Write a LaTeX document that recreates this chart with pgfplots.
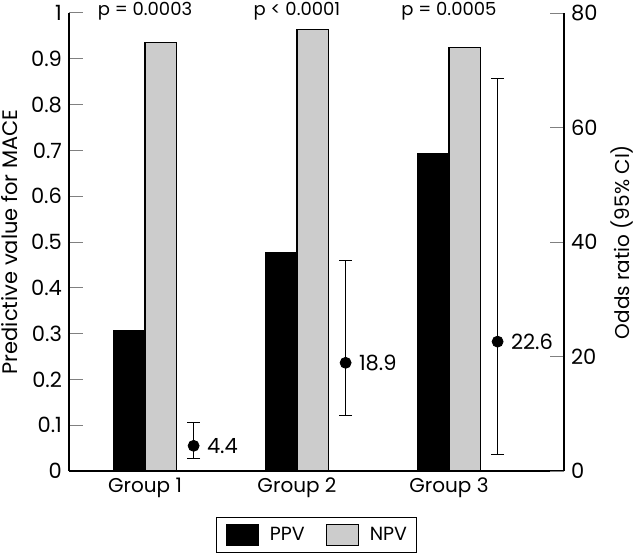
\documentclass[border=0pt]{standalone}
\usepackage{fontspec}
\setmainfont{Poppins}
\usepackage{pgfplots}
\pgfplotsset{compat=1.18}
\usepackage{pgfplotstable}
\definecolor{npvgray}{RGB}{204,204,204}
\pgfplotsset{boxlegend/.style={legend image code/.code={\draw[##1] (0pt,-5.4pt) rectangle (16pt,5.4pt);}}}

\pgfplotstableread{
x ppv npv
1 0.306 0.936
2 0.476 0.964
3 0.692 0.924
}\bars

\pgfplotstableread{
x or ep em lab
1.32 4.4 4.1 2.3 4.4
2.32 18.9 17.9 9.2 18.9
3.32 22.6 45.9 19.8 22.6
}\odds

\begin{document}
\begin{tikzpicture}[font=\fontsize{10pt}{12pt}\selectfont]
\begin{axis}[
  at={(0pt,0pt)}, anchor=south west,
  scale only axis, width=247.5pt, height=229pt,
  xmin=0.5, xmax=3.757, ymin=0, ymax=1,
  axis x line*=bottom, axis y line*=left,
  axis line style={line width=0.6pt},
  ybar=0pt, bar width=15.75pt,
  xtick={1,2,3}, xticklabels={Group 1,Group 2,Group 3},
  x tick style={draw=none},
  xticklabel style={font=\fontsize{10pt}{12pt}\selectfont},
  ytick={0,0.1,0.2,0.3,0.4,0.5,0.6,0.7,0.8,0.9,1},
  yticklabels={0,0.1,0.2,0.3,0.4,0.5,0.6,0.7,0.8,0.9,1},
  yticklabel style={font=\fontsize{10.5pt}{12pt}\selectfont},
  tick align=inside, major tick length=7pt,
  y tick style={line width=0.5pt},
  ylabel={Predictive value for MACE},
  every axis y label/.style={at={(axis description cs:-0.1192,0.5)}, rotate=90, anchor=center,
    font=\fontsize{10.5pt}{12pt}\selectfont},
  clip=false,
  legend columns=2,
  legend style={at={(0.5,-0.1012)}, anchor=north, draw=black, line width=0.5pt,
    font=\fontsize{9.5pt}{11pt}\selectfont,
    inner xsep=4.6pt, inner ysep=2.9pt,
    nodes={inner sep=0pt},
    /tikz/every odd column/.append style={column sep=5.4pt},
    /tikz/every even column/.append style={column sep=10.5pt}},
]
\addplot[fill=black, draw=black, line width=0.6pt, boxlegend]
  table[x=x, y=ppv]{\bars};
\addlegendentry{PPV}
\addplot[fill=npvgray, draw=black, line width=0.6pt, boxlegend]
  table[x=x, y=npv]{\bars};
\addlegendentry{NPV}
\node[anchor=base, yshift=-1.5pt, font=\fontsize{9pt}{11pt}\selectfont] at (axis cs:1,1) {p = 0.0003};
\node[anchor=base, yshift=-1.5pt, font=\fontsize{9pt}{11pt}\selectfont] at (axis cs:2,1) {p {\char"3C} 0.0001};
\node[anchor=base, yshift=-1.5pt, font=\fontsize{9pt}{11pt}\selectfont] at (axis cs:3,1) {p = 0.0005};
\end{axis}
\begin{axis}[
  at={(0pt,0pt)}, anchor=south west,
  scale only axis, width=247.5pt, height=229pt,
  xmin=0.5, xmax=3.757, ymin=0, ymax=80,
  axis x line=none, axis y line*=right,
  axis line style={line width=0.6pt},
  ytick={0,20,40,60,80},
  /pgf/number format/assume math mode=true,
  yticklabel style={font=\fontsize{10.5pt}{12pt}\selectfont},
  tick align=inside, major tick length=7pt,
  y tick style={line width=0.5pt},
  ylabel={Odds ratio (95\% CI)},
  every axis y label/.style={at={(axis description cs:1.118,0.5)}, rotate=90, anchor=center,
    font=\fontsize{10pt}{12pt}\selectfont},
  clip=false,
]
\addplot[only marks, mark=*, mark size=2.75pt, black,
  point meta=explicit symbolic,
  nodes near coords,
  every node near coord/.append style={anchor=west, inner sep=0pt, xshift=6.5pt,
    font=\fontsize{10.5pt}{12pt}\selectfont},
  error bars/.cd, y dir=both, y explicit,
  error mark options={rotate=90, mark size=3.25pt, line width=0.5pt},
  error bar style={line width=0.5pt}]
  table[x=x, y=or, y error plus=ep, y error minus=em, meta=lab]{\odds};
\end{axis}
\pgfresetboundingbox
\useasboundingbox (-34.5pt,-40.5pt) rectangle (285.5pt,235.5pt);
\end{tikzpicture}
\end{document}
